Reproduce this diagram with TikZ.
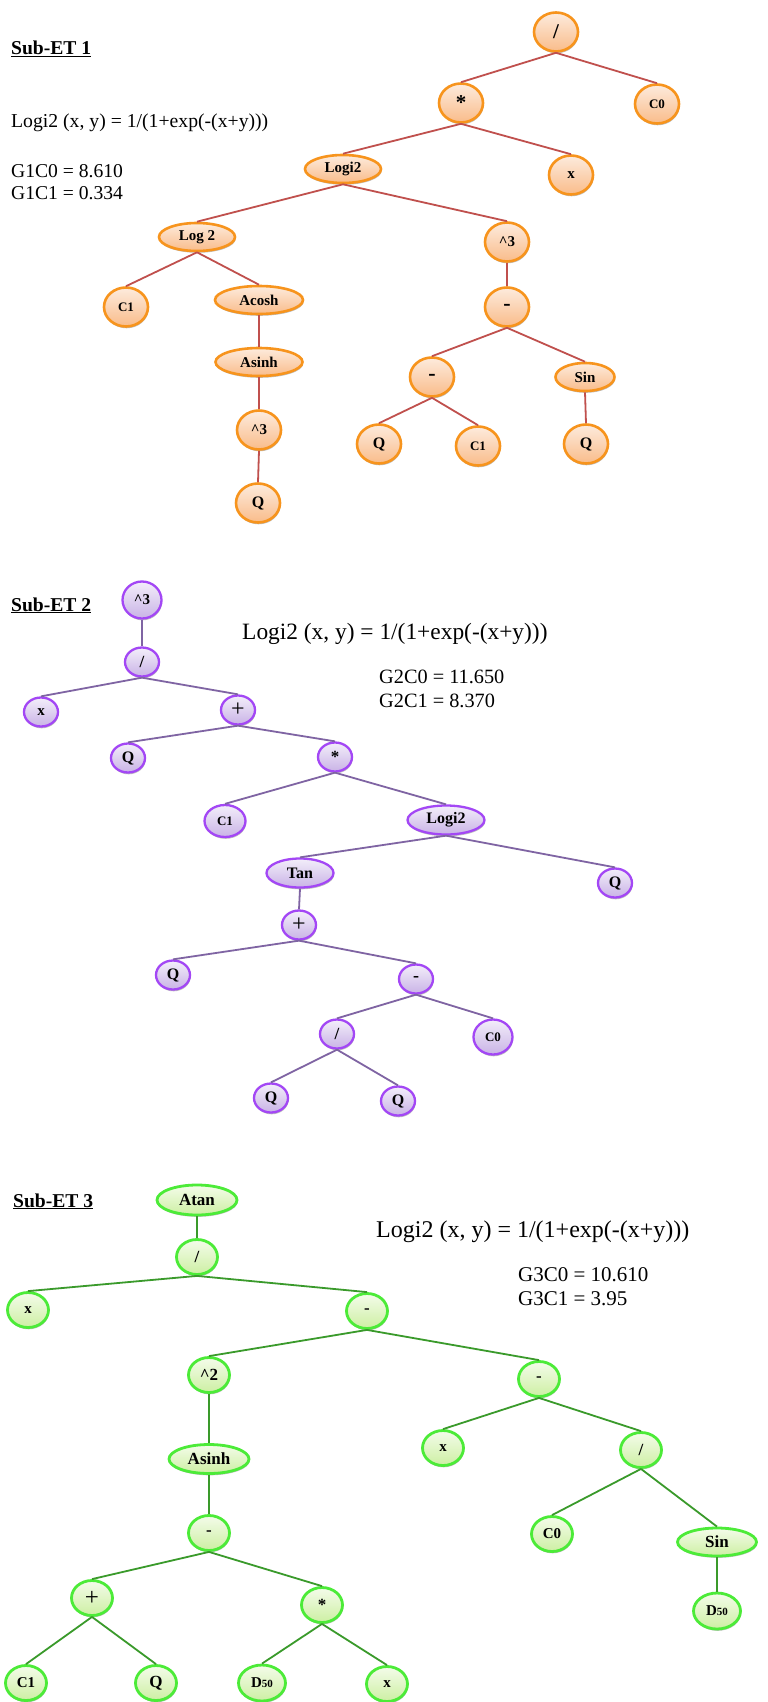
\documentclass[tikz,border=0pt]{standalone}
\usepackage{fontspec}
\setmainfont{Liberation Serif}
\usetikzlibrary{shapes.geometric,shadows}
\definecolor{orB}{HTML}{F7941D}
\definecolor{orT}{HTML}{FDEBDD}
\definecolor{orD}{HTML}{F9BC8A}
\definecolor{edO}{HTML}{C0504D}
\definecolor{puB}{HTML}{A347F5}
\definecolor{puT}{HTML}{F3EEFA}
\definecolor{puD}{HTML}{C9B3E6}
\definecolor{edP}{HTML}{7F64A3}
\definecolor{grB}{HTML}{4CEB38}
\definecolor{grT}{HTML}{F4FCEA}
\definecolor{grD}{HTML}{CDEFA3}
\definecolor{edG}{HTML}{3A9A2B}
\newcommand\myfs[1]{\fontsize{#1}{#1}\selectfont}
\tikzset{
  tn/.style={ellipse, inner sep=0pt, text=black, font=\bfseries\myfs{15}},
  sz/.style 2 args={minimum width=#1pt, minimum height=#2pt},
  fsz/.style={font=\bfseries\myfs{#1}},
  rfs/.style={font=\myfs{#1}},
  shd/.style={drop shadow={shadow xshift=0.6pt, shadow yshift=-1.8pt, opacity=0.25, fill=black}},
  orn/.style={tn, shd, draw=orB, line width=2.6pt, top color=orT, bottom color=orD, sz={44}{39}},
  pun/.style={tn, shd, draw=puB, line width=2.3pt, top color=puT, bottom color=puD, sz={34}{29}},
  grn/.style={tn, shd, draw=grB, line width=2.8pt, top color=grT, bottom color=grD, sz={41}{35}, fsz=17},
  edo/.style={draw=edO, line width=1.8pt},
  edp/.style={draw=edP, line width=1.8pt},
  edg/.style={draw=edG, line width=1.8pt},
  lbl/.style={anchor=base west, inner sep=0pt, text=black},
}
\begin{document}
\begin{tikzpicture}[x=1pt,y=-1pt]
\fill[white] (0,0) rectangle (768,1702);
\useasboundingbox (0,0) rectangle (768,1702);

% ---------------- Sub-ET 1 ----------------
\node[lbl, fsz=19.6] (t1) at (11,55) {\underline{Sub-ET 1}};
\node[lbl, rfs=19.7] (f1) at (11,127) {Logi2 (x, y) = 1/(1+exp(-(x+y)))};
\node[lbl, rfs=19.6] (c10) at (11,177) {G1C0 = 8.610};
\node[lbl, rfs=19.6] (c11) at (11,199) {G1C1 = 0.334};

\node[orn, fsz=21] (a1) at (556,32) {/};
\node[orn, fsz=21] (a2) at (461,103) {*};
\node[orn, fsz=13] (a3) at (657,104) {C0};
\node[orn, sz={76}{28}] (a4) at (343,169) {Logi2};
\node[orn] (a5) at (571,175) {x};
\node[orn, sz={76}{28}] (a6) at (197,237) {Log 2};
\node[orn] (a7) at (507,242) {\textasciicircum 3};
\node[orn, fsz=13] (a8) at (126,307) {C1};
\node[orn, sz={88}{28}] (a9) at (259,300) {Acosh};
\node[orn, fsz=22] (a10) at (507,307) {-};
\node[orn, sz={87}{28}] (a11) at (259,362) {Asinh};
\node[orn, fsz=22] (a12) at (432,377) {-};
\node[orn, sz={59}{28}] (a13) at (585,377) {Sin};
\node[orn] (a14) at (259,430) {\textasciicircum 3};
\node[orn, fsz=16] (a15) at (379,444) {Q};
\node[orn, fsz=13] (a16) at (478,446) {C1};
\node[orn, fsz=16] (a17) at (586,444) {Q};
\node[orn, fsz=16] (a18) at (258,503) {Q};

\foreach \p/\c in {a1/a2,a1/a3,a2/a4,a2/a5,a4/a6,a4/a7,a6/a8,a6/a9,a9/a11,a11/a14,a14/a18,a7/a10,a10/a12,a10/a13,a12/a15,a12/a16,a13/a17}
  \draw[edo] (\p.south) -- (\c.north);

% ---------------- Sub-ET 2 ----------------
\node[lbl, fsz=19.6] (t2) at (11,611) {\underline{Sub-ET 2}};
\node[lbl, rfs=23.4] (f2) at (242,639) {Logi2 (x, y) = 1/(1+exp(-(x+y)))};
\node[lbl, rfs=20.3] (c20) at (379,683) {G2C0 = 11.650};
\node[lbl, rfs=20.3] (c21) at (379,707) {G2C1 = 8.370};

\node[pun, sz={39}{37}] (b1) at (142,600) {\textasciicircum 3};
\node[pun, fsz=17] (b2) at (142,662) {/};
\node[pun] (b3) at (41,712) {x};
\node[pun, font=\myfs{24}] (b4) at (238,710) {+};
\node[pun, fsz=16] (b5) at (128,758) {Q};
\node[pun, fsz=17] (b6) at (335,757) {*};
\node[pun, sz={41}{32}, fsz=13] (b7) at (225,821) {C1};
\node[pun, sz={77}{29}, fsz=16] (b8) at (446,820) {Logi2};
\node[pun, sz={67}{29}, fsz=16] (b9) at (300,873) {Tan};
\node[pun, fsz=16] (b10) at (615,883) {Q};
\node[pun, font=\myfs{24}] (b11) at (299,925) {+};
\node[pun, fsz=16] (b12) at (173,975) {Q};
\node[pun, fsz=18] (b13) at (416,979) {-};
\node[pun, fsz=17] (b14) at (337,1034) {/};
\node[pun, sz={39}{35}, fsz=13] (b15) at (493,1037) {C0};
\node[pun, fsz=16] (b16) at (271,1098) {Q};
\node[pun, fsz=16] (b17) at (398,1101) {Q};

\foreach \p/\c in {b1/b2,b2/b3,b2/b4,b4/b5,b4/b6,b6/b7,b6/b8,b8/b9,b8/b10,b9/b11,b11/b12,b11/b13,b13/b14,b13/b15,b14/b16,b14/b17}
  \draw[edp] (\p.south) -- (\c.north);

% ---------------- Sub-ET 3 ----------------
\node[lbl, fsz=19.6] (t3) at (13,1207) {\underline{Sub-ET 3}};
\node[lbl, rfs=24] (f3) at (376,1237) {Logi2 (x, y) = 1/(1+exp(-(x+y)))};
\node[lbl, rfs=21] (c30) at (518,1281) {G3C0 = 10.610};
\node[lbl, rfs=21] (c31) at (518,1305) {G3C1 = 3.95};

\node[grn, sz={80}{30}] (g1) at (197,1200) {Atan};
\node[grn] (g2) at (197,1257) {/};
\node[grn, fsz=15] (g3) at (28,1310) {x};
\node[grn] (g4) at (367,1311) {-};
\node[grn] (g5) at (209,1375) {\textasciicircum 2};
\node[grn] (g6) at (539,1379) {-};
\node[grn, sz={80}{29}] (g7) at (209,1459) {Asinh};
\node[grn, fsz=15] (g8) at (443,1448) {x};
\node[grn] (g9) at (641,1450) {/};
\node[grn] (g10) at (209,1533) {-};
\node[grn, fsz=15] (g11) at (552,1534) {C0};
\node[grn, sz={79}{28}] (g12) at (717,1542) {Sin};
\node[grn, font=\myfs{25}] (g13) at (92,1598) {+};
\node[grn] (g14) at (322,1605) {*};
\node[grn, sz={47}{36}] (g15) at (717,1611) {{\myfs{15}D}{\myfs{11}50}};
\node[grn, fsz=15] (g16) at (26,1683) {C1};
\node[grn] (g17) at (156,1683) {Q};
\node[grn, sz={47}{36}] (g18) at (262,1683) {{\myfs{15}D}{\myfs{11}50}};
\node[grn, fsz=15] (g19) at (387,1684) {x};

\foreach \p/\c in {g1/g2,g2/g3,g2/g4,g4/g5,g4/g6,g5/g7,g7/g10,g10/g13,g10/g14,g13/g16,g13/g17,g14/g18,g14/g19,g6/g8,g6/g9,g9/g11,g9/g12,g12/g15}
  \draw[edg] (\p.south) -- (\c.north);
\end{tikzpicture}
\end{document}
